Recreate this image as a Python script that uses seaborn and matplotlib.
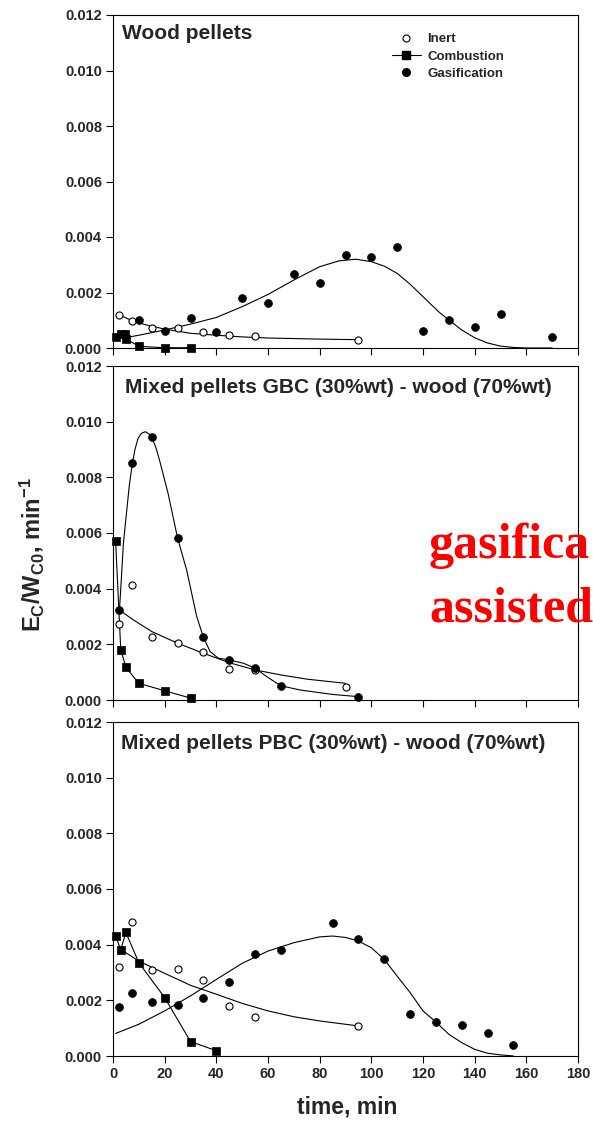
import matplotlib
matplotlib.use("Agg")
import matplotlib.pyplot as plt
from matplotlib.lines import Line2D
import seaborn as sns

# ---------------- data ----------------
# Panel 1: Wood pellets
wood_inert_t = [2.5, 7.5, 15, 25, 35, 45, 55, 95]
wood_inert_y = [0.00119, 0.00099, 0.00072, 0.00072, 0.00056, 0.00048, 0.00045, 0.00030]
wood_inert_fit_t = [2.5, 7.5, 12.5, 20, 30, 40, 50, 60, 70, 80, 95]
wood_inert_fit_y = [0.00119, 0.00098, 0.00084, 0.00068, 0.00053, 0.00046, 0.00040, 0.00036, 0.00034, 0.00032, 0.00030]
wood_comb_t = [1, 3, 4.8, 5.2, 10, 20, 30]
wood_comb_y = [0.00041, 0.00050, 0.00052, 0.00032, 0.00006, 0.00001, 0.00001]
wood_gas_t = [10, 20, 30, 40, 50, 60, 70, 80, 90, 100, 110, 120, 130, 140, 150, 170]
wood_gas_y = [0.00102, 0.00062, 0.00108, 0.00056, 0.00179, 0.00162, 0.00267, 0.00235,
              0.00335, 0.00329, 0.00365, 0.00062, 0.00102, 0.00077, 0.00121, 0.00041]
wood_gas_fit_t = [3, 10, 20, 30, 40, 50, 60, 70, 80, 87.5, 94, 100, 105, 110, 115, 120,
                  126, 130, 135, 140, 145, 150, 155, 160, 170]
wood_gas_fit_y = [0.00034, 0.00046, 0.00065, 0.00086, 0.00110, 0.00149, 0.00193, 0.00245,
                  0.00293, 0.00314, 0.00320, 0.00311, 0.00295, 0.00269, 0.00230, 0.00185,
                  0.00131, 0.00101, 0.00065, 0.00037, 0.00018, 0.00007, 0.00002, 0.0, 0.0]

# Panel 2: Mixed pellets GBC
gbc_inert_t = [2.5, 7.5, 15, 25, 35, 45, 55, 90]
gbc_inert_y = [0.00274, 0.00413, 0.00226, 0.00206, 0.00172, 0.00113, 0.00109, 0.00046]
gbc_inert_fit_t = [2.5, 8, 15, 25, 35, 45, 55, 65, 75, 90]
gbc_inert_fit_y = [0.00323, 0.00287, 0.00246, 0.00204, 0.00168, 0.00134, 0.00108, 0.00090, 0.00075, 0.00060]
gbc_comb_t = [1, 3, 5, 10, 20, 30]
gbc_comb_y = [0.00573, 0.00181, 0.00117, 0.00060, 0.00033, 0.00007]
gbc_gas_t = [2.5, 7.5, 15, 25, 35, 45, 55, 65, 95]
gbc_gas_y = [0.00324, 0.00851, 0.00945, 0.00582, 0.00226, 0.00145, 0.00114, 0.00052, 0.00012]
gbc_gas_fit_t = [2.5, 3.2, 4, 5.2, 6.3, 7.5, 8.5, 9.7, 11, 12.5, 14, 15, 16.5, 18, 21.3, 25,
                 28.5, 32.4, 35, 37.6, 40.8, 45, 50.5, 55, 59.5, 65, 72.4, 85, 95]
gbc_gas_fit_y = [0.00324, 0.00430, 0.00560, 0.00670, 0.00770, 0.00850, 0.00900, 0.00940,
                 0.00958, 0.00964, 0.00955, 0.00944, 0.00910, 0.00862, 0.00743, 0.00582,
                 0.00467, 0.00300, 0.00225, 0.00174, 0.00150, 0.00144, 0.00132, 0.00114,
                 0.00084, 0.00051, 0.00036, 0.00020, 0.00012]

# Panel 3: Mixed pellets PBC
pbc_inert_t = [2.5, 7.5, 15, 25, 35, 45, 55, 95]
pbc_inert_y = [0.00320, 0.00480, 0.00309, 0.00311, 0.00273, 0.00180, 0.00139, 0.00109]
pbc_inert_fit_t = [3, 10, 20, 30, 40, 50, 60, 70, 80, 95]
pbc_inert_fit_y = [0.00383, 0.00341, 0.00297, 0.00254, 0.00222, 0.00189, 0.00162, 0.00141, 0.00126, 0.00108]
pbc_comb_t = [1, 3, 5, 10, 20, 30, 40]
pbc_comb_y = [0.00431, 0.00382, 0.00444, 0.00335, 0.00210, 0.00052, 0.00019]
pbc_gas_t = [2.5, 7.5, 15, 25, 35, 45, 55, 65, 85, 95, 105, 115, 125, 135, 145, 155]
pbc_gas_y = [0.00175, 0.00228, 0.00194, 0.00182, 0.00207, 0.00266, 0.00368, 0.00382,
             0.00477, 0.00420, 0.00349, 0.00152, 0.00122, 0.00110, 0.00083, 0.00040]
pbc_gas_fit_t = [1, 10, 20, 30, 40, 50, 60, 70, 80, 85, 90, 95, 100, 105, 110, 115, 120,
                 125, 130, 135, 140, 145, 150, 155]
pbc_gas_fit_y = [0.00081, 0.00114, 0.00162, 0.00216, 0.00275, 0.00333, 0.00377, 0.00407,
                 0.00428, 0.00431, 0.00426, 0.00413, 0.00389, 0.00347, 0.00287, 0.00228,
                 0.00162, 0.00122, 0.00078, 0.00048, 0.00024, 0.00010, 0.00004, 0.0]

panel_titles = ["Wood pellets",
                "Mixed pellets GBC (30%wt) - wood (70%wt)",
                "Mixed pellets PBC (30%wt) - wood (70%wt)"]
legend_labels = ["Inert", "Combustion", "Gasification"]
x_ticks = [0, 20, 40, 60, 80, 100, 120, 140, 160, 180]
y_ticks = [0.000, 0.002, 0.004, 0.006, 0.008, 0.010, 0.012]

panels = [
    dict(it=wood_inert_t, iy=wood_inert_y, ift=wood_inert_fit_t, ify=wood_inert_fit_y,
         ct=wood_comb_t, cy=wood_comb_y, gt=wood_gas_t, gy=wood_gas_y,
         gft=wood_gas_fit_t, gfy=wood_gas_fit_y),
    dict(it=gbc_inert_t, iy=gbc_inert_y, ift=gbc_inert_fit_t, ify=gbc_inert_fit_y,
         ct=gbc_comb_t, cy=gbc_comb_y, gt=gbc_gas_t, gy=gbc_gas_y,
         gft=gbc_gas_fit_t, gfy=gbc_gas_fit_y),
    dict(it=pbc_inert_t, iy=pbc_inert_y, ift=pbc_inert_fit_t, ify=pbc_inert_fit_y,
         ct=pbc_comb_t, cy=pbc_comb_y, gt=pbc_gas_t, gy=pbc_gas_y,
         gft=pbc_gas_fit_t, gfy=pbc_gas_fit_y),
]

# ---------------- style ----------------
sns.set_style("ticks")
plt.rcParams['font.family'] = ['Liberation Sans', 'DejaVu Sans']
plt.rcParams['font.weight'] = 'bold'
plt.rcParams['mathtext.fontset'] = 'custom'
plt.rcParams['mathtext.rm'] = 'Liberation Sans:bold'
plt.rcParams['mathtext.it'] = 'Liberation Sans:bold'
plt.rcParams['mathtext.bf'] = 'Liberation Sans:bold'
plt.rcParams['axes.unicode_minus'] = True

W, H = 593, 1125
fig = plt.figure(figsize=(W / 100, H / 100), dpi=100)

left = 113 / W
width = (578 - 113) / W
panel_px = [(15, 348), (366, 700), (722, 1056)]
title_pos = [(0.019, 0.943, 15), (0.026, 0.937, 15), (0.017, 0.937, 15)]
tick_fs = 10.5

lw = 0.8
for i, (p, (top, bot)) in enumerate(zip(panels, panel_px)):
    ax = fig.add_axes([left, 1 - bot / H, width, (bot - top) / H])
    # fitted / connecting lines
    sns.lineplot(x=p['ift'], y=p['ify'], ax=ax, color='black', lw=lw,
                 estimator=None, sort=False, zorder=2)
    sns.lineplot(x=p['gft'], y=p['gfy'], ax=ax, color='black', lw=lw,
                 estimator=None, sort=False, zorder=2)
    sns.lineplot(x=p['ct'], y=p['cy'], ax=ax, color='black', lw=lw,
                 estimator=None, sort=False, zorder=2)
    # markers
    sns.scatterplot(x=p['it'], y=p['iy'], ax=ax, marker='o', s=26, color='white',
                    edgecolor='black', linewidth=0.8, zorder=4, clip_on=False)
    sns.scatterplot(x=p['ct'], y=p['cy'], ax=ax, marker='s', s=36, color='black',
                    edgecolor='black', linewidth=0.5, zorder=4, clip_on=False)
    sns.scatterplot(x=p['gt'], y=p['gy'], ax=ax, marker='o', s=32, color='black',
                    edgecolor='black', linewidth=0.5, zorder=5, clip_on=False)

    ax.set_xlim(0, 180)
    ax.set_ylim(0, 0.012)
    ax.set_xticks(x_ticks)
    ax.set_yticks(y_ticks)
    ax.set_yticklabels([f"{v:.3f}" for v in y_ticks], fontsize=tick_fs, fontweight='bold')
    if i == 2:
        ax.set_xticklabels([str(v) for v in x_ticks], fontsize=tick_fs, fontweight='bold')
    else:
        ax.set_xticklabels([])
    ax.tick_params(axis='both', direction='out', length=5, width=0.8, color='black',
                   pad=3, top=False, right=False)
    for s in ax.spines.values():
        s.set_visible(True)
        s.set_linewidth(0.8)
        s.set_color('black')
    ax.set_xlabel("")
    ax.set_ylabel("")
    tx, ty, tfs = title_pos[i]
    ax.text(tx, ty, panel_titles[i], transform=ax.transAxes, fontsize=tfs,
            fontweight='bold', va='center', ha='left')

    if i == 0:
        handles = [
            Line2D([], [], marker='o', ls='none', mfc='white', mec='black', ms=5, mew=0.8),
            Line2D([], [], marker='s', ls='-', color='black', lw=0.8, ms=5.5),
            Line2D([], [], marker='o', ls='none', color='black', ms=5.5),
        ]
        leg = ax.legend(handles, legend_labels, loc='upper left',
                        bbox_to_anchor=(0.585, 0.965), frameon=False,
                        prop={'weight': 'bold', 'size': 9.5}, handlelength=2.2,
                        handletextpad=0.5, labelspacing=0.38, borderpad=0)

fig.text(32 / W, 1 - 555 / H, r"$E_C/W_{C0}$, min$^{-1}$", rotation=90,
         fontsize=17, fontweight='bold', ha='center', va='center')
fig.text(347 / W, 1 - 1107 / H, "time, min", fontsize=16.5, fontweight='bold',
         ha='center', va='center')

fig.text(429 / W, 1 - 558 / H, "gasifica", color='#ff0000', fontsize=36,
         fontweight='bold', family=['Liberation Serif', 'DejaVu Serif'],
         ha='left', va='baseline')
fig.text(429 / W, 1 - 622 / H, "assisted", color='#ff0000', fontsize=36,
         fontweight='bold', family=['Liberation Serif', 'DejaVu Serif'],
         ha='left', va='baseline')

fig.savefig("out.png", dpi=100)
